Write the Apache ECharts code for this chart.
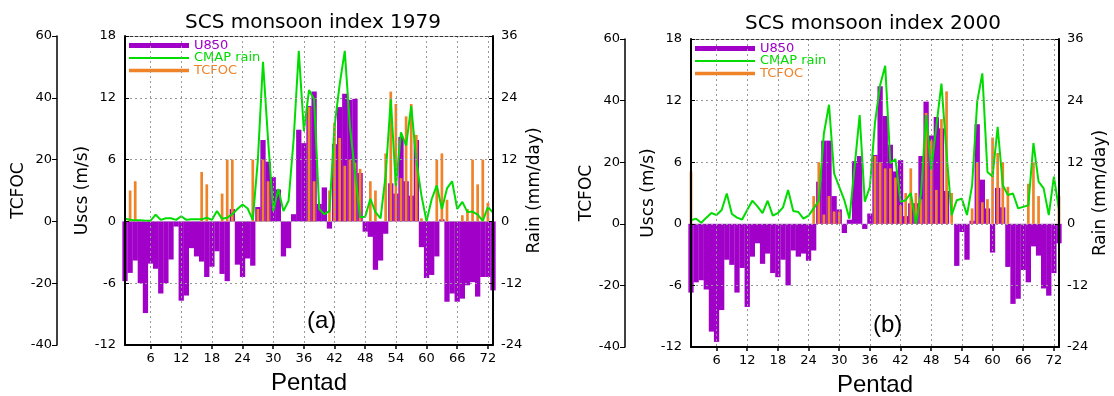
<!DOCTYPE html>
<html><head><meta charset="utf-8">
<script src="https://cdn.jsdelivr.net/npm/echarts@6/dist/echarts.min.js"></script>
<style>html,body{margin:0;padding:0;background:#fff}#c{width:1114px;height:396px}</style>
</head><body><div id="c"></div>
<script>
const pentads = [1,2,3,4,5,6,7,8,9,10,11,12,13,14,15,16,17,18,19,20,21,22,23,24,25,26,27,28,29,30,31,32,33,34,35,36,37,38,39,40,41,42,43,44,45,46,47,48,49,50,51,52,53,54,55,56,57,58,59,60,61,62,63,64,65,66,67,68,69,70,71,72,73];
const xTicks = [6,12,18,24,30,36,42,48,54,60,66,72];

const u850_1979 = [-5.8,-5.0,-3.8,-6.0,-8.9,-4.1,-4.6,-7.0,-6.0,-3.7,-0.5,-7.7,-7.2,-2.6,-3.4,-3.9,-5.4,-4.4,-2.9,-5.1,-5.8,1.2,-4.2,-5.4,-3.6,-4.3,1.4,7.9,5.8,4.3,3.1,-3.4,-2.6,0.7,8.9,7.6,11.2,12.6,1.7,3.3,-0.7,7.5,11.1,12.4,11.8,11.9,4.7,-1.0,-1.5,-4.7,-3.8,-1.2,3.7,2.7,8.2,3.9,2.5,7.9,-2.5,-5.5,-5.2,-3.4,0.2,-7.8,-7.0,-7.8,-7.5,-6.2,-5.9,-7.3,-5.4,-5.4,-6.7];
const tcfoc_1979 = [0,10,13,0,0,0,0,0,0,0,0,0,0,0,0,16,12,0,0,9,20,20,0,0,0,20,4,20,13,0,0,0,0,0,0,0,37,13,0,0,10,32,27,18,20,19,17,0,13,10,0,22,42,38,14,34,38,28,1,0,0,20,22,7,0,0,2,4,20,12,20,6,0];
const rain_1979 = [0.5,0.3,0.2,0.2,0.15,0.15,1.3,0.3,0.6,0.6,0.3,1.0,0.3,0.4,0.4,0.4,0.7,0.3,2.0,0.5,0.7,1.4,2.4,3.3,2.5,0.3,12,31,15.7,2.0,6.3,2.0,4.0,16,33.1,17.5,25.5,23.7,2.4,1.4,2.0,18.5,26.6,33.1,18.5,9.5,0.8,0.9,4.4,1.8,0.6,9,23.7,6.9,17.3,14.7,22.4,11.8,5.0,0,4.3,7.0,2.4,6.4,7.8,2.4,3.8,1.8,1.9,1.3,0.1,2.8,1.7];

const u850_2000 = [-6.7,-5.7,-5.5,-6.4,-10.5,-11.5,-8.4,-3.5,-4.0,-6.7,-4.3,-8.1,-3.2,-1.9,-3.9,-2.9,-4.8,-5.2,-3.5,-6.0,-2.6,-3.2,-2.9,-3.6,-2.6,4.1,8.1,8.1,2.7,1.4,-0.9,0.4,6.1,6.6,-0.5,1.0,6.7,13.4,10.5,7.7,5.1,6.2,0.75,2.0,2.0,6.6,11.9,8.6,10.4,9.3,3.2,0,-4.1,-0.8,-3.5,0.3,9.7,4.3,1.5,-2.8,3.5,1.6,-4.2,-7.8,-7.3,-4.5,-5.7,-2.2,-3.1,-6.3,-7.0,-4.8,-1.9];
const tcfoc_2000 = [17,0,0,0,0,0,0,0,0,0,0,0,0,0,0,0,0,0,0,0,0,0,0,0,9,20,3,9,4,4,0,0,0,0,0,0,22,20,18,18,15,6,10,18,10,8,36,27,11,34,43,10,0,0,0,5,20,7,8,28,23,20,12,0,0,0,13,20,9,0,0,0,9];
const rain_2000 = [0.7,1.0,0.2,1.2,2.1,1.7,2.7,5.9,1.9,1.2,0.85,2.7,4.5,3.4,2.1,4.5,1.6,2.1,3.2,6.6,2.5,2.3,1.0,1.6,3.0,4.5,17.6,23.2,9.8,7.2,4.6,1.0,11,21.2,4.3,7.2,19.7,27,30.8,11.8,12.6,4.3,4.6,6.0,0,5.9,21.2,10.5,19,27.3,13.7,1.7,4.6,4.9,1.7,7.5,23.8,29.3,10.1,9.2,18.9,7.5,5.6,5.9,3.0,3.3,3.6,15.7,8.2,6.9,1.7,9.2,2.7];

const PURPLE = '#a000c8', GREEN = '#00dc00', ORANGE = '#f08228';
const tickFont = {fontFamily:'DejaVu Sans', fontSize:13, color:'#000'};
const nameFont = {fontFamily:'DejaVu Sans', fontSize:17, color:'#000'};
const pair = arr => pentads.map((p,i)=>[p, arr[i]]);

const grids = [
  {left:125, top:36, width:368, height:309, outerBoundsMode:'none', containLabel:false},
  {left:691, top:39, width:368, height:308, outerBoundsMode:'none', containLabel:false}
];
const tcOffset = [68, 66];

const xAxis = [], yAxis = [], series = [], legend = [], title = [], graphic = [];
const panels = [
  {u:u850_1979, t:tcfoc_1979, r:rain_1979, title:'SCS monsoon index 1979', tx:308, ty:8, lab:'(a)', lx:322, ly:323},
  {u:u850_2000, t:tcfoc_2000, r:rain_2000, title:'SCS monsoon index 2000', tx:868, ty:9, lab:'(b)', lx:888, ly:327}
];
panels.forEach((pn, g) => {
  xAxis.push({
    type:'value', gridIndex:g, min:1, max:73, z:5,
    name:'Pentad', nameLocation:'middle', nameGap:26,
    nameTextStyle:{fontFamily:'Liberation Sans', fontSize:24, color:'#000'},
    axisLine:{onZero:false, lineStyle:{color:'#000', width:2}},
    axisTick:{customValues:xTicks, length:4, lineStyle:{color:'#000', width:1.5}},
    axisLabel:Object.assign({customValues:xTicks, margin:7}, tickFont),
    splitLine:{show:true, lineStyle:{color:'#999', type:[2,3], width:1}}
  });
  xAxis.push({
    type:'value', gridIndex:g, min:1, max:73, position:'top', z:5,
    axisLine:{onZero:false, lineStyle:{color:'#333', type:[3,2], width:1}},
    axisTick:{show:false}, axisLabel:{show:false}, splitLine:{show:false}
  });
  yAxis.push({
    type:'value', gridIndex:g, min:-12, max:18, interval:6, position:'left', z:5,
    name:'Uscs (m/s)', nameLocation:'middle', nameGap:34, nameRotate:90, nameTextStyle:nameFont,
    axisLine:{show:true, onZero:false, lineStyle:{color:'#000', width:2}},
    axisTick:{show:true, inside:true, length:4, lineStyle:{color:'#000'}},
    axisLabel:Object.assign({margin:9}, tickFont),
    splitLine:{show:true, lineStyle:{color:'#999', type:[2,3], width:1}}
  });
  yAxis.push({
    type:'value', gridIndex:g, min:-40, max:60, interval:20, position:'left', offset:tcOffset[g], z:5,
    name:'TCFOC', nameLocation:'middle', nameGap:30, nameRotate:90, nameTextStyle:nameFont,
    axisLine:{show:true, onZero:false, lineStyle:{color:'#000', width:1.5}},
    axisTick:{show:true, inside:false, length:5, lineStyle:{color:'#000'}},
    axisLabel:Object.assign({margin:5}, tickFont),
    splitLine:{show:false}
  });
  yAxis.push({
    type:'value', gridIndex:g, min:-24, max:36, interval:12, position:'right', z:5,
    name:'Rain (mm/day)', nameLocation:'middle', nameGap:31, nameRotate:90, nameTextStyle:nameFont,
    axisLine:{show:true, onZero:false, lineStyle:{color:'#000', width:2}},
    axisTick:{show:true, inside:true, length:4, lineStyle:{color:'#000'}},
    axisLabel:Object.assign({margin:8}, tickFont),
    splitLine:{show:false}
  });
  series.push({
    name:'U850', type:'bar', xAxisIndex:2*g, yAxisIndex:3*g, data:pair(pn.u),
    barWidth:5.3, itemStyle:{color:PURPLE}, z:2, animation:false
  });
  series.push({
    name:'TCFOC', type:'bar', xAxisIndex:2*g+1, yAxisIndex:3*g+1, data:pair(pn.t),
    barWidth:2.7, itemStyle:{color:ORANGE}, z:3, animation:false
  });
  series.push({
    name:'CMAP rain', type:'line', xAxisIndex:2*g, yAxisIndex:3*g+2, data:pair(pn.r),
    symbol:'none', lineStyle:{color:GREEN, width:2}, itemStyle:{color:GREEN}, z:4, animation:false
  });
  title.push({text:pn.title, left:pn.tx, top:pn.ty, textAlign:'center',
    textStyle:{fontFamily:'DejaVu Sans', fontSize:20, fontWeight:'normal', color:'#000'}});
  graphic.push({type:'text', left:pn.lx-15, top:pn.ly-14, z:10,
    style:{text:pn.lab, fontFamily:'Liberation Sans', fontSize:24, fill:'#000'}});
  const lx = grids[g].left + 4;
  const ly0 = grids[g].top + 3;
  [['U850', PURPLE, 5, 0], ['CMAP rain', GREEN, 2, 12.5], ['TCFOC', ORANGE, 3.5, 25]].forEach(([nm, col, h, dy]) => {
    legend.push({data:[nm], left:lx, top:ly0+dy, orient:'vertical', icon:'rect', itemWidth:60, itemHeight:h,
      selectedMode:false, padding:0, textStyle:{color:col, fontFamily:'DejaVu Sans', fontSize:13}});
  });
});

const chart = echarts.init(document.getElementById('c'), null, {renderer:'canvas'});
chart.setOption({animation:false, backgroundColor:'#fff', grid:grids, xAxis, yAxis, series, legend, title, graphic});
</script></body></html>
